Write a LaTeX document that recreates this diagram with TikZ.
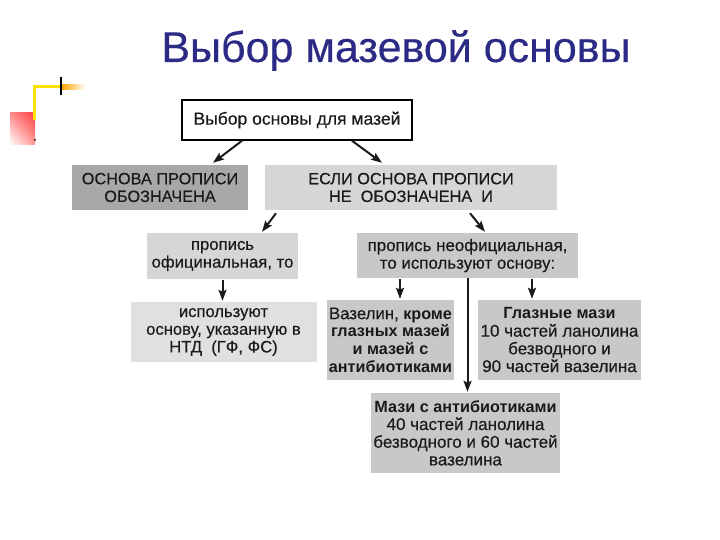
\documentclass[tikz,border=0pt]{standalone}
\usepackage{fontspec}
\setmainfont{Liberation Sans}[UprightFeatures={FakeBold=0.35}]
\usetikzlibrary{arrows.meta,shadings}
\definecolor{titleblue}{HTML}{2B2B85}
\definecolor{txt}{HTML}{1A1A1A}
\definecolor{gdark}{HTML}{A8A8A8}
\definecolor{gmid}{HTML}{C8C8C8}
\definecolor{glight}{HTML}{D6D6D6}
\definecolor{gpale}{HTML}{E0E0E0}
\newcommand{\fsz}[1]{\fontsize{#1}{17.7}\selectfont}
\newcommand{\bl}[1]{{\fsz{16.2}\bfseries #1}}
\tikzset{
  box/.style={rectangle, align=center, inner sep=0pt, text=txt, font=\fsz{17}},
  arr/.style={draw=txt, line width=2pt, -{Stealth[length=11pt,width=8pt,inset=2pt]}},
}
\begin{document}
\begin{tikzpicture}[x=1pt,y=-1pt]
\useasboundingbox (0,0) rectangle (720,540);
% decoration
\shade[upper right=red!75, upper left=red!45!white, lower right=red!40!white, lower left=white] (10,113) rectangle (35,145);
\draw[color=yellow!85!orange, line width=3pt] (34,120) -- (34,87) -- (61,87);
\shade[left color=orange!70!yellow, right color=white] (62,85) rectangle (85,90);
\draw[line width=2pt, black] (61,77) -- (61,95);
\fill[black] (35,140) circle (1pt);
% title
\node[anchor=base, text=titleblue, font=\fontsize{43}{50}\selectfont] (title) at (396,62) {Выбор мазевой основы};
% boxes
\node[box, font=\fsz{17.5}, draw=black, line width=1.5pt, fill=white, minimum width=230pt, minimum height=40pt] (top) at (297,120) {Выбор основы для мазей};
\node[box, font=\fsz{16.3}, fill=gdark, minimum width=176pt, minimum height=45pt] (b2) at (160,187.5) {ОСНОВА ПРОПИСИ\\ОБОЗНАЧЕНА};
\node[box, font=\fsz{16.3}, fill=glight, minimum width=292pt, minimum height=45pt] (b3) at (411,187.5) {ЕСЛИ ОСНОВА ПРОПИСИ\\НЕ\ \ ОБОЗНАЧЕНА\ \ И};
\node[box, font=\fsz{16.7}, fill=glight, minimum width=151pt, minimum height=46pt] (b4) at (222.5,256) {пропись\\официнальная, то};
\node[box, font=\fsz{16.9}, fill=gmid, minimum width=221pt, minimum height=45pt] (b5) at (467.5,255.5) {пропись неофициальная,\\то используют основу:};
\node[box, font=\fsz{16.6}, fill=gpale, minimum width=186pt, minimum height=60pt] (b6) at (223.5,332) {используют\\основу, указанную в\\НТД\ \ (ГФ, ФС)};
\node[box, font=\fsz{16.2}, fill=gmid, minimum width=127pt, minimum height=80pt] (b7) at (390.5,340) {{\fsz{16.8}Вазелин,} \textbf{кроме}\\\textbf{глазных мазей}\\\textbf{и мазей с}\\\textbf{антибиотиками}};
\node[box, fill=gmid, minimum width=163pt, minimum height=80pt] (b8) at (559.5,340) {\bl{Глазные мази}\\10 частей ланолина\\безводного и\\90 частей вазелина};
\node[box, fill=gmid, minimum width=189pt, minimum height=80pt] (b9) at (465.5,433) {\bl{Мази с антибиотиками}\\40 частей ланолина\\безводного и 60 частей\\вазелина};
% arrows
\draw[arr] ([xshift=-55pt]top.south) -- ([xshift=53pt,yshift=2pt]b2.north);
\draw[arr] ([xshift=55pt]top.south) -- ([xshift=-29pt,yshift=2pt]b3.north);
\draw[arr] ([xshift=-135pt,yshift=-3pt]b3.south) -- ([xshift=39.5pt,yshift=1pt]b4.north);
\draw[arr] ([xshift=59pt,yshift=-3pt]b3.south) -- ([xshift=17.5pt,yshift=1pt]b5.north);
\draw[arr] ([yshift=-1pt]b4.south) -- ([yshift=1pt]b4.south |- b6.north);
\draw[arr] ([xshift=-67.5pt,yshift=-1pt]b5.south) -- ([xshift=9.5pt,yshift=1pt]b7.north);
\draw[arr] ([xshift=64.5pt,yshift=-1pt]b5.south) -- ([xshift=-27.5pt,yshift=1pt]b8.north);
\draw[arr] (b5.south) -- ([yshift=1pt]b5.south |- b9.north);
\end{tikzpicture}
\end{document}
